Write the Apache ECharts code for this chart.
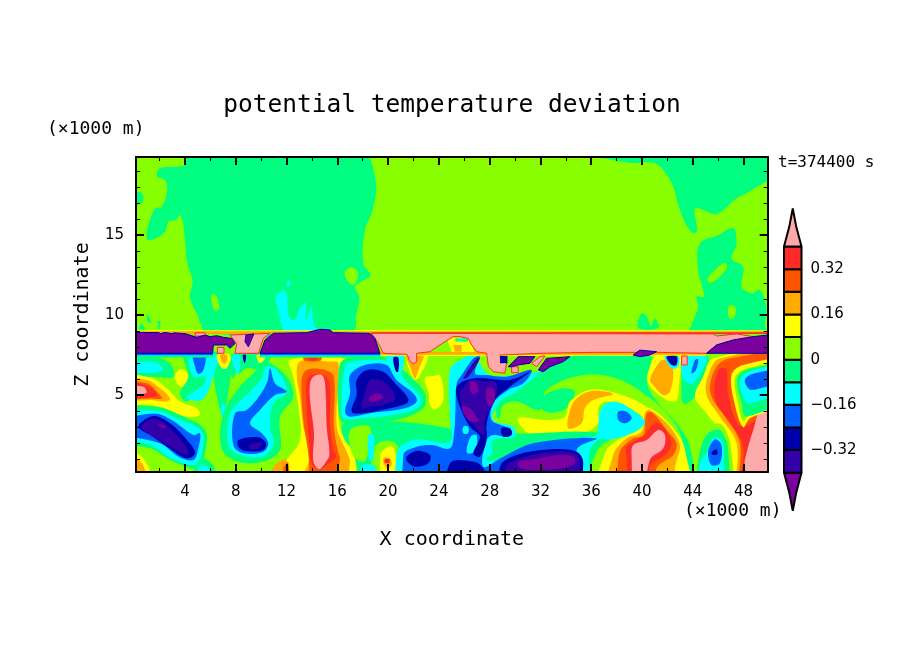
<!DOCTYPE html>
<html>
<head>
<meta charset="utf-8">
<style>html,body{margin:0;background:#fff}#chart{width:904px;height:654px}</style>
<script src="https://cdn.jsdelivr.net/npm/echarts@6/dist/echarts.min.js"></script>
</head>
<body>
<div id="chart"></div>
<script>
// filled contour bands, purple (below -0.40) up to pink (above 0.40)
var bandColors = ['#7a00a0', '#3300aa', '#0000aa', '#0060ff', '#00ffff', '#00ff80', '#88ff00', '#ffff00', '#ffaa00', '#ff5500', '#ff2a2a', '#ffaaaa'];
var barEdges = [-0.4, -0.32, -0.24, -0.16, -0.08, 0, 0.08, 0.16, 0.24, 0.32, 0.4];
var xMajor = [4, 8, 12, 16, 20, 24, 28, 32, 36, 40, 44, 48];
var xMinor = [2, 6, 10, 14, 18, 22, 26, 30, 34, 38, 42, 46];
var zMajor = [5, 10, 15];
var zMinor = [1, 2, 3, 4, 6, 7, 8, 9, 11, 12, 13, 14, 16, 17, 18, 19];

// each band: [band index, [x km, z km, x km, z km ...]]
var fieldBase = [
  [6, [0, 0, 50, 0, 50, 20, 0, 20]]
];
var upperBands = [
  [5, [4.13, 20, 4, 19.39, 1.98, 19.18, 1.82, 18.66, 2.43, 18.45, 2.56, 17.62, 2.16, 16.78, 1.64, 16.68, 1.11, 15.64, 0.98, 14.8, 1.38, 14.7, 2.43, 15.22, 2.69, 15.85, 3.34, 15.95, 3.55, 16.26, 3.82, 15.85, 4, 14.7, 4.18, 13.24, 4.6, 12.1, 4.39, 11.16, 4.92, 10.12, 5.84, 8.9, 17.12, 8.9, 17.52, 10.12, 17.73, 11.16, 17.39, 11.78, 17.91, 12.1, 18.62, 12.51, 18.04, 13.24, 18.17, 15.32, 18.7, 16.37, 19.04, 17.62, 18.96, 18.66, 18.17, 20]],
  [6, [6.1, 11.3, 6.45, 11.2, 6.7, 10.5, 6.4, 10.25, 6.15, 10.7]],
  [6, [16.6, 12.7, 17.1, 13, 17.6, 12.7, 17.5, 12.1, 17.2, 11.9, 16.75, 12.2]],
  [5, [-0.2, 17.7, 0.45, 17.7, 0.72, 17.2, 0.3, 16.9, -0.2, 16.7]],
  [4, [11.14, 11.325, 11.48, 11.37, 11.74, 11.57, 12, 11.37, 12.2, 9.91, 12.66, 9.7, 13.06, 10.43, 13.53, 10.78, 13.5, 9.7, 13.97, 10.53, 14.16, 9.39, 14.76, 8.9, 12, 8.9, 11.35, 10.3]],
  [4, [12.06, 12.16, 12.27, 12.16, 12.27, 11.82, 12.06, 11.82]],
  [5, [36.29, 20, 39.04, 19.53, 40.88, 19.53, 41.67, 19.08, 42.46, 18.03, 42.98, 16.58, 43.64, 15.43, 44.03, 15.12, 44.34, 15.33, 44.16, 16.68, 44.82, 16.58, 45.87, 16.33, 47.44, 17.3, 48.23, 17.62, 49.54, 18.24, 50, 19.08, 50, 20]],
  [5, [44.42, 14.28, 44.95, 14.74, 45.87, 14.95, 47.18, 15.43, 47.44, 14.39, 47.05, 13.55, 47.97, 13.03, 47.84, 11.78, 48.62, 11.37, 49.28, 11.57, 49.8, 10.53, 49.7, 9.39, 49.8, 8.9, 43.7, 8.9, 43.9, 9.39, 44.42, 10.53, 44.29, 11.16, 44.87, 11.16, 44.42, 12.83]],
  [6, [45.13, 12.2, 45.6, 12.72, 46.52, 13.28, 46.71, 13.03, 46.13, 12.41, 45.4, 12.03]],
  [6, [46.8, 10.5, 47.1, 10.63, 47.4, 10.4, 47.2, 9.8, 46.85, 9.85]],
  [5, [39.7, 9.2, 39.95, 10.1, 40.4, 9.9, 40.7, 9.3, 41, 9.8, 41.3, 9.2]],
  [5, [1, 10.1, 1.35, 9.5, 1.05, 9.6]],
  [5, [0.55, 9.5, 0.85, 9.1, 0.4, 9.1]],
  [5, [1.85, 9.6, 2.05, 9.6, 2, 9.1]]
];
var leftBands = [
  [5, [0, 7.3, 1.51, 7.41, 2.82, 7, 3.08, 6.16, 2.03, 6.12, 1.25, 6.16, 0, 6.16]],
  [4, [0, 7, 1.25, 7.1, 2.03, 6.9, 2.3, 6.58, 1.25, 6.4, 0, 6.47]],
  [7, [3.74, 6.62, 4.18, 6.37, 4.29, 5.99, 4, 5.58, 3.55, 5.58, 3.24, 5.99, 3.29, 6.37]],
  [7, [0, 6.16, 1.25, 6.12, 2.56, 5.43, 3.61, 4.6, 4.92, 4.18, 5.18, 3.76, 4.13, 3.66, 2.56, 4.08, 1.25, 4.39, 0, 4.39]],
  [8, [0, 5.99, 0.98, 5.95, 2.03, 5.43, 2.82, 4.8, 2.56, 4.6, 1.25, 4.7, 0, 4.7]],
  [9, [0, 5.85, 0.98, 5.74, 1.9, 5.12, 2.16, 4.8, 1.25, 4.8, 0, 4.8]],
  [10, [0, 5.74, 0.85, 5.64, 1.77, 4.95, 0, 4.95]],
  [11, [0, 5.6, 0.72, 5.53, 0.93, 5.12, 0, 5.05]],
  [5, [0, 4.08, 1.77, 4.28, 3.61, 3.76, 5.58, 2.83, 5.58, 1.37, 5.05, 0.43, 3.08, 0.85, 1.25, 1.68, 0, 2.2]],
  [4, [0, 3.76, 1.64, 4.03, 3.35, 3.56, 5.32, 2.72, 5.32, 1.37, 4.79, 0.64, 2.95, 1.05, 1.25, 1.89, 0, 2.51]],
  [3, [0, 3.24, 1.51, 3.85, 2.95, 3.45, 4.66, 2.51, 5.18, 2.62, 5.05, 1.68, 4.66, 0.95, 3.48, 1.16, 2.03, 1.99, 0, 2.72]],
  [2, [0.33, 3.03, 1.51, 3.7, 2.82, 3.24, 4.26, 2.1, 4.79, 1.37, 4.13, 1.05, 2.95, 1.58, 1.51, 2.41]],
  [1, [0.59, 3.03, 1.51, 3.56, 2.69, 3.03, 4, 1.89, 4.26, 1.37, 3.87, 1.37, 2.56, 1.89, 1.25, 2.51]],
  [0, [1.9, 3.2, 2.43, 3.08, 2.43, 2.93, 2.03, 3.03]],
  [7, [0, 1.47, 0.72, 1.05, 1.51, 0, 0, 0]],
  [8, [0, 0.95, 0.5, 0.85, 0.98, 0, 0, 0]],
  [5, [4, 0, 5.2, 1, 6.3, 0.5, 6.6, 0]],
  [4, [4.4, 0, 5.18, 0.6, 5.97, 0.3, 6.1, 0]],
  [5, [3.97, 7.51, 7.28, 7.51, 6.1, 6.05, 4.13, 4.6, 3.61, 5.12, 4.26, 6.16]],
  [4, [4.4, 7.45, 6.5, 7.45, 6.23, 6.16, 5.32, 4.7, 4.13, 4.87, 5.45, 5.64, 5.58, 6.16, 4.66, 6.16]],
  [3, [4.66, 7.51, 5.58, 7.51, 5.45, 6.58, 5.05, 6.33, 4.79, 6.78]],
  [5, [6.36, 6.58, 7.55, 7, 7.02, 3.66, 6.63, 4.49]],
  [4, [7.02, 4.49, 7.28, 3.9, 7, 3.7, 6.8, 3.9]],
  [5, [7.55, 7.5, 10.7, 7.5, 10.04, 6.58, 8.86, 6.68, 7.81, 6.05]],
  [6, [8.2, 6.58, 8.33, 5.22, 7.81, 5.74]],
  [7, [9.65, 7.5, 10.43, 7.5, 9.91, 7]],
  [4, [7.68, 7.45, 8.33, 7.45, 8.2, 6.3]],
  [2, [8.55, 7.5, 8.81, 7.5, 8.7, 7]],
  [7, [6.5, 7.5, 7.6, 7.5, 7.3, 6.7, 6.9, 6.7]],
  [8, [6.76, 7.5, 7.33, 7.5, 7.2, 7, 7, 7]],
  [5, [10.3, 7.1, 12.01, 6.16, 12.53, 4.91, 11.48, 3.66, 11.48, 1.58, 10.17, 0.85, 8.07, 0.85, 6.89, 1.68, 7.02, 3.87, 8.33, 5.53, 9.65, 6.58]],
  [4, [10.43, 6.78, 11.22, 6.58, 12.01, 5.22, 10.96, 4.49, 10.7, 3.03, 10.96, 1.89, 10.04, 1.16, 8.33, 1.26, 7.41, 1.89, 7.55, 3.87, 8.86, 5.01, 10.04, 6.05]],
  [3, [10.7, 6.68, 11.09, 5.74, 12.01, 5.22, 11.09, 5.01, 9.91, 4.08, 9.12, 3.24, 10.04, 2.62, 10.56, 1.99, 10.17, 1.47, 8.6, 1.37, 7.81, 1.89, 7.94, 3.87, 8.86, 4.08, 9.91, 5.01, 10.49, 5.85]],
  [2, [8.2, 2.2, 9.78, 2.37, 10.38, 1.99, 10.17, 1.58, 8.73, 1.51, 8.2, 1.78]],
  [1, [9.12, 1.89, 10.04, 2.03, 9.78, 1.68, 9.12, 1.62]]
];
var centreBands = [
  [7, [12.27, 7.2, 16.47, 7.3, 16.08, 5.95, 16.21, 3.03, 17.26, 1.37, 17.52, 0.53, 16.47, 0, 9.65, 0, 12.01, 0.95, 13.06, 2.2, 12.93, 4.28, 12.53, 6.16]],
  [8, [12.8, 6.26, 13.06, 7.1, 15.42, 7.1, 16.08, 7, 15.95, 3.03, 16.73, 1.47, 17, 0.74, 15.95, 0, 12.27, 0, 13.85, 1.16, 13.32, 3.03, 13.06, 4.91]],
  [9, [13.19, 5.95, 13.58, 6.58, 15.03, 6.58, 15.73, 6.16, 15.73, 3.03, 16.08, 1.37, 16.21, 1.05, 15.42, 0, 14.11, 0, 13.71, 1.37, 13.32, 3.45]],
  [10, [13.58, 5.85, 13.98, 6.26, 14.9, 6.26, 15.37, 5.74, 15.42, 3.24, 15.68, 1.58, 15.89, 1.16, 15.16, 0.64, 14.63, 0.33, 13.98, 0.74, 13.79, 1.99, 13.58, 4.28]],
  [11, [14.11, 6.16, 14.77, 6.26, 15.03, 5.74, 15.16, 3.03, 15.37, 1.26, 15.03, 0.74, 14.58, 0.37, 14.11, 0.85, 14.16, 2.62, 13.85, 4.7, 13.85, 5.74]],
  [9, [13.32, 7.37, 14.76, 7.37, 14.63, 7.14, 13.45, 7.14]],
  [10, [13.75, 7.3, 14.4, 7.3, 14.4, 7.2, 13.75, 7.2]],
  [8, [9.78, 0, 10.96, 0.5, 12.01, 0.95, 12.14, 0]],
  [9, [11.75, 0.4, 12.14, 0.8, 12.14, 0]],
  [5, [16.47, 7.2, 19.62, 7.41, 21.46, 6.37, 22.9, 5.12, 22.77, 4.18, 20.67, 3.45, 18.05, 3.35, 16.47, 3.24, 16.08, 4.28, 16.08, 6.16]],
  [4, [16.86, 6.99, 19.49, 7.2, 20.41, 6.89, 21.33, 5.95, 22.51, 4.91, 22.38, 4.24, 20.41, 3.76, 17.91, 3.56, 16.47, 3.56, 16.34, 4.49, 16.47, 6.16]],
  [3, [17, 6.26, 18.18, 6.89, 19.88, 6.89, 20.67, 5.95, 21.98, 5.12, 22.25, 4.6, 21.33, 4.18, 18.57, 3.87, 17, 3.66, 16.6, 3.97, 17, 5.12]],
  [2, [17.52, 5.95, 18.31, 6.58, 19.62, 6.47, 20.67, 5.64, 21.59, 4.8, 21.46, 4.49, 20.15, 4.18, 18.05, 3.87, 17.13, 3.97, 17.52, 5.01]],
  [1, [18.18, 5.12, 18.57, 5.95, 19.62, 5.85, 20.54, 5.01, 20.41, 4.6, 18.57, 4.28, 17.91, 4.18]],
  [0, [18.52, 4.87, 19.23, 5.12, 19.62, 4.87, 19.23, 4.66, 18.62, 4.62]],
  [4, [19.9, 7.5, 21.2, 7.5, 20.9, 6.1, 20.4, 6.3]],
  [2, [20.41, 7.35, 20.8, 7.35, 20.8, 6.47, 20.6, 6.5]],
  [7, [22.9, 6.1, 23.6, 6.2, 24.1, 6.25, 24.35, 4.7, 23.7, 4.1, 23.3, 4.4, 23.2, 5.1]],
  [7, [21.5, 7.5, 23.1, 7.5, 22.4, 6.1, 22, 6]],
  [8, [21.46, 7.5, 22.77, 7.5, 22.38, 6.58, 22.12, 6.05, 21.72, 6.78]],
  [5, [16.47, 3.2, 20.67, 3.35, 24.87, 2.9, 26, 2.5, 25.5, 0, 18.57, 0, 17.26, 1.4, 16.47, 2.4]],
  [6, [18.96, 1.78, 20.41, 2.1, 21.07, 0.95, 21, 0, 18.83, 0]],
  [7, [19.49, 1.47, 20.28, 1.78, 20.67, 1.16, 20.8, 0.43, 19.49, 0, 19.36, 0.85]],
  [8, [19.62, 1.05, 20.15, 1.05, 20.28, 0.64, 19.88, 0.43]],
  [10, [19.75, 1, 20.1, 1, 20.1, 0.78, 19.75, 0.78]],
  [6, [17, 2.8, 18.57, 3, 18.2, 0.9, 17.26, 1.2]],
  [4, [18.44, 2.51, 18.83, 2.51, 18.83, 0.95, 18.5, 0.95]],
  [4, [17.5, 0, 17.9, 0.55, 19, 0.5, 19, 0]]
];
var midBands = [
  [5, [28.55, 4.49, 29.46, 5.33, 31.96, 6.47, 34.58, 7.45, 40.62, 7.45, 40.36, 5.95, 40.88, 4.91, 42.72, 3.24, 43.77, 1.78, 44.43, 0, 43.25, 0, 41.67, 1.78, 39.57, 3.45, 36.68, 4.49, 32.75, 3.45, 28.81, 3.45]],
  [6, [28.81, 3.66, 29.07, 4.39, 30.12, 4.6, 31.96, 4.08, 32.48, 5.33, 35.37, 6.26, 38, 6.05, 40.1, 5.12, 42.2, 3.66, 43.25, 1.99, 43.77, 0, 42.2, 0, 41.67, 1.78, 39.57, 3.45, 36.68, 4.49, 36.55, 3.03, 35.37, 2.51, 31.43, 2.1, 28.28, 2.3]],
  [5, [31.96, 4.28, 32.35, 5.01, 33.8, 5.43, 34.71, 5.22, 34.06, 4.18, 32.75, 3.91]],
  [7, [30.25, 3.56, 32.48, 3.45, 33.93, 3.66, 34.32, 4.6, 35.9, 5.33, 38, 5.12, 40.36, 4.28, 42.2, 2.93, 43.25, 1.37, 43.64, 0, 42.2, 0, 41.93, 1.68, 40.62, 3.24, 39.05, 4.18, 37.2, 4.6, 36.55, 4.18, 36.55, 3.24, 35.37, 2.62, 32.75, 2.41, 31.17, 2.51]],
  [8, [34.19, 2.93, 34.37, 4.18, 34.98, 4.91, 36.16, 5.28, 37.73, 5.08, 36.16, 4.7, 35.5, 4.18, 35.24, 3.24]],
  [5, [27.5, 1, 28, 2.5, 31, 2.6, 36, 2.7, 37.5, 2.2, 36.5, 1.2, 36, 0, 35, 0]],
  [6, [35.76, 0, 36.42, 1.47, 38.26, 2.51, 40.1, 3.24, 41, 2.8, 42.2, 0]],
  [7, [36.42, 0, 37.08, 1.37, 38.26, 2.3, 39.83, 2.93, 40.1, 3.66, 40.62, 4.18, 42.46, 2.93, 43.38, 1.58, 43.64, 0]],
  [8, [37.2, 0, 37.73, 1.26, 38.78, 2.3, 39.96, 2.72, 40.23, 3.87, 40.62, 4.08, 42.2, 3.03, 42.98, 1.89, 42.72, 0.95, 41.67, 0]],
  [9, [38.13, 0, 38.13, 0.95, 38.39, 1.68, 39.31, 2.3, 40.1, 2.51, 40.36, 3.87, 40.88, 3.87, 41.93, 2.83, 42.72, 1.99, 42.46, 1.26, 41.15, 0.43, 40.75, 0]],
  [10, [39.18, 0, 38.78, 1.16, 38.78, 1.78, 40.23, 2.51, 41.01, 3.24, 41.67, 3.03, 42.33, 1.99, 41.93, 1.37, 40.62, 0.53, 40.36, 0]],
  [11, [39.44, 0, 39.18, 1.16, 39.31, 1.89, 40.36, 2.2, 41.28, 2.83, 41.8, 2.51, 41.67, 1.68, 40.62, 0.95, 40.04, 0]],
  [4, [24.87, 6.58, 25.66, 7.2, 26.71, 7.45, 28.02, 6.26, 31.17, 6.37, 31.96, 6.47, 30.12, 5.22, 28.81, 4.6, 28.28, 3.45, 29.86, 3.03, 29.99, 2.41, 28.28, 2.2, 28.15, 1.37, 27.76, 0.95, 29.07, 0.95, 31.43, 1.78, 36.68, 2.41, 35.9, 1.58, 35.37, 0, 21.46, 0, 20.67, 1.37, 21.98, 2.2, 24.87, 2.1, 24.87, 3.45]],
  [3, [25.4, 5.74, 25.79, 6.26, 26.71, 7.3, 27.23, 7.41, 26.84, 6.37, 27.76, 6.26, 29.33, 6.16, 31.3, 6.58, 30.65, 5.74, 29.46, 5.33, 28.28, 4.49, 28.15, 3.45, 29.33, 3, 29.73, 2.72, 29.46, 2.41, 28.28, 2.51, 27.76, 2.2, 27.49, 0.53, 29.07, 1.16, 31.43, 1.99, 36.42, 2.3, 34.85, 1.58, 35.1, 0, 21.98, 0, 21.2, 1.26, 22.25, 1.78, 23.43, 1.89, 24.87, 1.68, 25.2, 2.7, 25.3, 4]],
  [4, [25.92, 3.03, 26.3, 3.03, 26.3, 2.62, 25.92, 2.62]],
  [4, [26.5, 2.4, 26.98, 2.5, 26.85, 1.5, 26.2, 1.4]],
  [2, [21.46, 1.16, 22.25, 1.52, 23.3, 1.26, 23.17, 0.74, 22.12, 0.53, 21.5, 0.85]],
  [2, [25.4, 5.53, 26.71, 6.05, 29.6, 5.95, 31.17, 6.47, 29.6, 5.53, 28.41, 4.7, 27.76, 3.24, 27.76, 2.2, 27.23, 1.16, 26.71, 1.37, 27.23, 2.41, 26.45, 3.03, 25.66, 4.28]],
  [1, [25.66, 4.91, 26.45, 5.95, 27.49, 5.85, 28.55, 5.74, 28.28, 4.49, 27.63, 3.45, 27.63, 2.62, 27.23, 2.62, 26.18, 3.87]],
  [1, [25.92, 6.05, 26.97, 7.3, 27.23, 7.3, 26.31, 6.16]],
  [0, [27.76, 5.43, 28.28, 5.43, 28.41, 4.7, 28.02, 4.28, 27.7, 4.8]],
  [0, [26.45, 5.85, 26.97, 5.74, 27.1, 5.22, 26.58, 5.12]],
  [0, [25.79, 4.28, 26.45, 4.18, 27.1, 3.35, 26.31, 3.45]],
  [2, [28.94, 2.93, 29.6, 2.93, 29.73, 2.51, 29.07, 2.41]],
  [2, [24.87, 0.74, 26.71, 0.85, 27.49, 0.43, 28.81, 0, 24.87, 0]],
  [2, [28.81, 0.53, 30.12, 1.26, 32.75, 1.62, 34.85, 1.47, 35.37, 0.74, 34.58, 0, 29.07, 0]],
  [1, [29.33, 0.53, 30.38, 1.05, 32.75, 1.47, 34.71, 1.37, 35.1, 0.85, 34.32, 0, 29.33, 0]],
  [0, [30.25, 0.85, 31.43, 1, 33.53, 1.26, 34.58, 1.16, 34.71, 0.74, 33.8, 0.43, 31.7, 0.33, 30.38, 0.43]],
  [4, [36.81, 4.18, 37.73, 4.6, 39.05, 4.18, 40.23, 3.24, 38.52, 2.41, 36.55, 2.3, 36.55, 3.03]],
  [3, [38.13, 3.97, 38.78, 3.97, 39.18, 3.56, 38.65, 3.24, 38.13, 3.45]],
  [7, [40.62, 6.78, 41.15, 7.51, 43.25, 7.51, 42.98, 6.16, 42.72, 4.7, 41.93, 4.7, 40.49, 5.74]],
  [8, [40.62, 5.95, 41.41, 7.1, 41.93, 7.2, 42.46, 6.58, 42.2, 5.22, 41.67, 5.01, 40.88, 5.64]],
  [4, [41.8, 7.45, 42.85, 7.51, 42.85, 6.78, 42.33, 6.68]],
  [2, [41.93, 7.41, 42.72, 7.45, 42.72, 6.89, 42.33, 6.89]]
];
var rightBands = [
  [5, [43.25, 7.41, 45.21, 7.41, 44.82, 6.16, 44.17, 4.91, 43.25, 4.49, 43.12, 6.05]],
  [4, [43.25, 7.41, 45.08, 7.41, 44.03, 5.74, 43.25, 6.05]],
  [3, [43.9, 6.37, 44.17, 7.2, 44.43, 7.24, 44.25, 6.58]],
  [7, [44.17, 4.91, 44.82, 6.16, 45.61, 7.3, 50, 7.5, 50, 0, 47.45, 0, 46.92, 1.78, 45.08, 3.87]],
  [8, [45.08, 5.01, 45.21, 6.26, 46.13, 7.3, 50, 7.37, 50, 0, 47.71, 0, 47.45, 2, 46.13, 3.66]],
  [9, [45.34, 5.53, 45.87, 6.78, 46.92, 7.3, 50, 7.3, 50, 0, 47.84, 0, 47.71, 2, 46.53, 3.66, 45.61, 4.7]],
  [10, [45.74, 5.74, 46.13, 6.68, 46.66, 6.58, 46.8, 4.91, 47.97, 3.03, 50, 5.12, 50, 0, 47.97, 0, 47.97, 1.78, 47.18, 3.03, 45.87, 4.49]],
  [11, [48.1, 0.95, 48.76, 2.83, 49.68, 4.6, 50, 5.01, 50, 0, 48.5, 0, 48.1, 0.53]],
  [7, [47.05, 6.26, 47.97, 6.89, 50, 7.16, 50, 4.8, 48.5, 3.56, 47.97, 3, 47.32, 4.39]],
  [6, [47.32, 6.05, 48.1, 6.62, 50, 7, 50, 4.95, 48.5, 3.87, 48, 3.35, 47.58, 4.39]],
  [5, [47.5, 6.05, 48.36, 6.62, 50, 6.89, 50, 5.22, 48.23, 3.66, 47.84, 4.49]],
  [4, [47.71, 5.95, 48.76, 6.58, 50, 6.78, 50, 5.74, 48.5, 4.49, 47.97, 4.91]],
  [3, [48.1, 5.95, 48.89, 6.37, 50, 6.68, 50, 6.26, 48.63, 5.33]],
  [6, [44, 0, 44.2, 1.6, 45, 2.9, 46.2, 3.2, 47, 1.7, 46.9, 0]],
  [5, [44.43, 0.95, 45.08, 2.51, 46.13, 2.83, 46.79, 1.58, 46.53, 0, 44.43, 0]],
  [4, [44.56, 0.74, 45.08, 1.37, 45.61, 2.3, 46.26, 2.2, 46.45, 1.16, 46.13, 0, 44.43, 0]],
  [3, [45.21, 1.47, 45.74, 2.24, 46.26, 1.89, 46.13, 0.74, 45.47, 0.64]],
  [2, [45.47, 1.41, 45.87, 1.62, 45.94, 1.33, 45.61, 1.26]]
];
// thin layer between 7.5 and 9 km, sharp edged
var beltBands = [
  [5, [0, 7.35, 6.2, 7.35, 6.2, 7.7, 0, 7.7]],
  [4, [0, 7.45, 6.2, 7.45, 6.2, 7.7, 0, 7.7]],
  [3, [0, 7.5, 6.2, 7.5, 6.2, 7.7, 0, 7.7]],
  [5, [9.9, 7.35, 19.4, 7.35, 19.4, 7.7, 9.9, 7.7]],
  [4, [9.9, 7.45, 19.4, 7.45, 19.4, 7.7, 9.9, 7.7]],
  [3, [9.9, 7.5, 19.4, 7.5, 19.4, 7.7, 9.9, 7.7]],
  [7, [19.4, 7.47, 45, 7.47, 45, 7.7, 19.4, 7.7]],
  [8, [19.4, 7.53, 45, 7.53, 45, 7.7, 19.4, 7.7]],
  [7, [0, 8.82, 50, 8.82, 50, 9.06, 0, 9.06]],
  [8, [0, 8.82, 50, 8.82, 50, 9, 0, 9]],
  [10, [18.7, 8.82, 50, 8.82, 50, 8.94, 18.7, 8.94]],
  [7, [24.6, 8.6, 26.4, 8.6, 26.8, 7.7, 25, 7.7]],
  [8, [25.13, 8.14, 25.79, 8.14, 25.79, 7.72, 25.26, 7.72]],
  [5, [25.3, 8.55, 26.3, 8.55, 26.3, 8.35, 25.3, 8.35]],
  [4, [25.45, 8.49, 26.13, 8.49, 26.13, 8.41, 25.45, 8.41]],
  [11, [18.7, 8.87, 45.6, 8.83, 45.87, 8.7, 47.45, 8.83, 48.76, 8.66, 47.71, 8.53, 47.18, 8.45, 45.87, 8.14, 45.08, 7.62, 41.15, 7.68, 39.2, 7.68, 36.16, 7.68, 32, 7.62, 28.8, 7.51, 29.33, 7, 29.2, 6.37, 28.3, 6.47, 27.9, 6.78, 27.76, 7.62, 26.97, 7.72, 26.58, 8.14, 26.31, 8.55, 25.66, 8.66, 25.13, 8.66, 24.48, 8.35, 23.3, 7.72, 22.25, 7.62, 22.25, 7.1, 21.98, 6.95, 21.67, 7.2, 21.5, 7.55, 19.62, 7.62, 19.23, 8.24]],
  [11, [29.73, 6.78, 30.25, 6.78, 30.25, 6.41, 29.73, 6.41]],
  [11, [43.12, 7.45, 43.56, 7.45, 43.56, 6.89, 43.12, 6.89]],
  [11, [31.3, 7, 31.96, 7.41, 32.35, 7.45, 31.7, 6.78]],
  [11, [6.55, 7.99, 7.07, 7.99, 7.07, 7.62, 6.55, 7.62]],
  [11, [4.79, 8.9, 5.58, 8.9, 5.58, 8.7, 4.79, 8.7]],
  [11, [7.55, 8.76, 10.7, 8.87, 10.17, 8.55, 9.78, 7.62, 7.94, 7.62, 8.07, 8.24]],
  [0, [0, 8.92, 1.9, 8.92, 2.1, 8.85, 2.4, 8.92, 3, 8.85, 3.1, 8.9, 4, 8.85, 4.92, 8.62, 5.6, 8.76, 5.97, 8.66, 6.5, 8.72, 7.02, 8.62, 7.68, 8.55, 7.94, 8.24, 7.55, 7.93, 7.28, 8.14, 6.23, 8.14, 6.18, 7.62, 0, 7.62]],
  [0, [8.8, 8.76, 9.43, 8.83, 8.99, 8.03, 8.73, 8.35]],
  [0, [10.96, 8.87, 13.58, 8.91, 14.63, 9.12, 15.42, 9.08, 15.68, 8.91, 18.57, 8.87, 18.96, 8.55, 19.36, 7.62, 9.91, 7.62, 10.3, 8.45]],
  [0, [29.46, 6.78, 30.25, 7.41, 31.56, 7.41, 31.17, 7, 30.25, 6.89, 29.73, 6.78]],
  [0, [31.83, 6.58, 32.48, 7.3, 34.32, 7.41, 33.8, 7.1, 32.75, 6.78, 32.22, 6.47]],
  [0, [39.3, 7.51, 39.83, 7.82, 41.15, 7.72, 40.62, 7.51, 39.83, 7.41]],
  [2, [28.81, 7.45, 29.4, 7.45, 29.4, 7, 28.81, 7]],
  [0, [45.08, 7.62, 45.87, 8.14, 47.18, 8.45, 48.76, 8.66, 50, 8.97, 50, 7.62]]
];

var smoothBands = upperBands.concat(leftBands, centreBands, midBands, rightBands);
var outline = { 11: '#ff2a2a', 0: '#0000aa' };

// pushes outline points sitting on the frame past it, so smoothing does not round the corners inside the plot
function pastFrame(x, z) {
  return [x <= 0 ? -2 : x >= 50 ? 52 : x, z <= 0 ? -2 : z];
}

function bandSeries(list, smooth, edged) {
  return {
    type: 'custom',
    silent: true,
    clip: true,
    z: 2,
    xAxisIndex: 0,
    yAxisIndex: 0,
    data: list.map(function (b, i) { return [i]; }),
    renderItem: function (params, api) {
      var band = list[params.dataIndex];
      var pts = [];
      for (var i = 0; i < band[1].length; i += 2) {
        pts.push(api.coord(pastFrame(band[1][i], band[1][i + 1])));
      }
      var style = { fill: bandColors[band[0]] };
      if (edged && outline[band[0]]) {
        style.stroke = outline[band[0]];
        style.lineWidth = 1;
      }
      return { type: 'polygon', shape: { points: pts, smooth: smooth }, style: style };
    }
  };
}

// colour bar: one box per band, plus the two end spears
var barSeries = {
  type: 'custom',
  silent: true,
  clip: false,
  xAxisIndex: 4,
  yAxisIndex: 4,
  data: bandColors.map(function (c, i) { return [i]; }),
  renderItem: function (params, api) {
    var i = params.dataIndex;
    var pts;
    if (i === 0) {
      pts = [[0, -0.4], [0.3, -0.47], [0.5, -0.535], [0.7, -0.47], [1, -0.4]];
    } else if (i === bandColors.length - 1) {
      pts = [[0, 0.4], [0.3, 0.47], [0.5, 0.535], [0.7, 0.47], [1, 0.4]];
    } else {
      pts = [[0, barEdges[i - 1]], [1, barEdges[i - 1]], [1, barEdges[i]], [0, barEdges[i]]];
    }
    return {
      type: 'polygon',
      shape: { points: pts.map(function (p) { return api.coord(p); }) },
      style: { fill: bandColors[i], stroke: '#000', lineWidth: 2, lineJoin: 'bevel' }
    };
  }
};

var chart = echarts.init(document.getElementById('chart'));
var labelFont = { color: '#000', fontFamily: 'DejaVu Sans', fontSize: 15 };

function xAx(pos, ticks, len, width, withLabel) {
  return {
    type: 'value', gridIndex: 0, position: pos, min: 0.14, max: 49.9, z: 10,
    splitLine: { show: false },
    axisLine: { show: withLabel !== undefined, onZero: false, lineStyle: { color: '#000', width: 2 } },
    axisTick: { show: true, inside: true, length: len, customValues: ticks, lineStyle: { color: '#000', width: width } },
    axisLabel: withLabel ? Object.assign({ show: true, margin: 13, customValues: ticks, hideOverlap: false }, labelFont) : { show: false }
  };
}
function zAx(pos, ticks, len, width, withLabel) {
  return {
    type: 'value', gridIndex: 0, position: pos, min: 0.2, max: 19.89, z: 10,
    splitLine: { show: false },
    axisLine: { show: withLabel !== undefined, onZero: false, lineStyle: { color: '#000', width: 2 } },
    axisTick: { show: true, inside: true, length: len, customValues: ticks, lineStyle: { color: '#000', width: width } },
    axisLabel: withLabel ? Object.assign({ show: true, margin: 12, customValues: ticks }, labelFont) : { show: false }
  };
}

var xBottom = xAx('bottom', xMajor, 8, 2, true);
xBottom.name = 'X coordinate';
xBottom.nameLocation = 'middle';
xBottom.nameGap = 58;
xBottom.nameTextStyle = { color: '#000', fontFamily: 'DejaVu Sans Mono', fontSize: 20 };
var zLeft = zAx('left', zMajor, 8, 2, true);
zLeft.name = 'Z coordinate';
zLeft.nameLocation = 'middle';
zLeft.nameGap = 43;
zLeft.nameTextStyle = { color: '#000', fontFamily: 'DejaVu Sans Mono', fontSize: 20 };

chart.setOption({
  animation: false,
  backgroundColor: '#fff',
  title: {
    text: 'potential temperature deviation',
    left: 'center',
    top: 88,
    textStyle: { color: '#000', fontFamily: 'DejaVu Sans Mono', fontWeight: 'normal', fontSize: 24.5 }
  },
  grid: [
    { left: 136, top: 157, width: 631.7, height: 315 },
    { left: 784, top: 224, width: 17.5, height: 271.3 }
  ],
  xAxis: [
    xBottom,
    xAx('bottom', xMinor, 4, 1),
    xAx('top', xMajor, 8, 2, false),
    xAx('top', xMinor, 4, 1),
    { type: 'value', gridIndex: 1, min: 0, max: 1, show: false }
  ],
  yAxis: [
    zLeft,
    zAx('left', zMinor, 4, 1),
    zAx('right', zMajor, 8, 2, false),
    zAx('right', zMinor, 4, 1),
    {
      type: 'value', gridIndex: 1, position: 'right', min: -0.48, max: 0.48, interval: 0.16,
      splitLine: { show: false },
      axisLine: { show: false },
      axisTick: { show: false },
      axisLabel: Object.assign({
        margin: 9,
        formatter: function (v) {
          if (Math.abs(v) > 0.4) return '';
          if (Math.abs(v) < 0.001) return '0';
          return (v < 0 ? '\u2212' : '') + Math.abs(v).toFixed(2);
        }
      }, labelFont)
    }
  ],
  graphic: [
    { type: 'text', left: 47, top: 120, style: { text: '(\u00d71000 m)', fill: '#000', font: '18px "DejaVu Sans Mono"' } },
    { type: 'text', left: 684, top: 502, style: { text: '(\u00d71000 m)', fill: '#000', font: '18px "DejaVu Sans Mono"' } },
    { type: 'text', left: 778, top: 155, style: { text: 't=374400 s', fill: '#000', font: '16px "DejaVu Sans Mono"' } }
  ],
  series: [
    bandSeries(fieldBase, 0, false),
    bandSeries(smoothBands, 0.35, false),
    bandSeries(beltBands, 0, true),
    barSeries
  ]
});
</script>
</body>
</html>
